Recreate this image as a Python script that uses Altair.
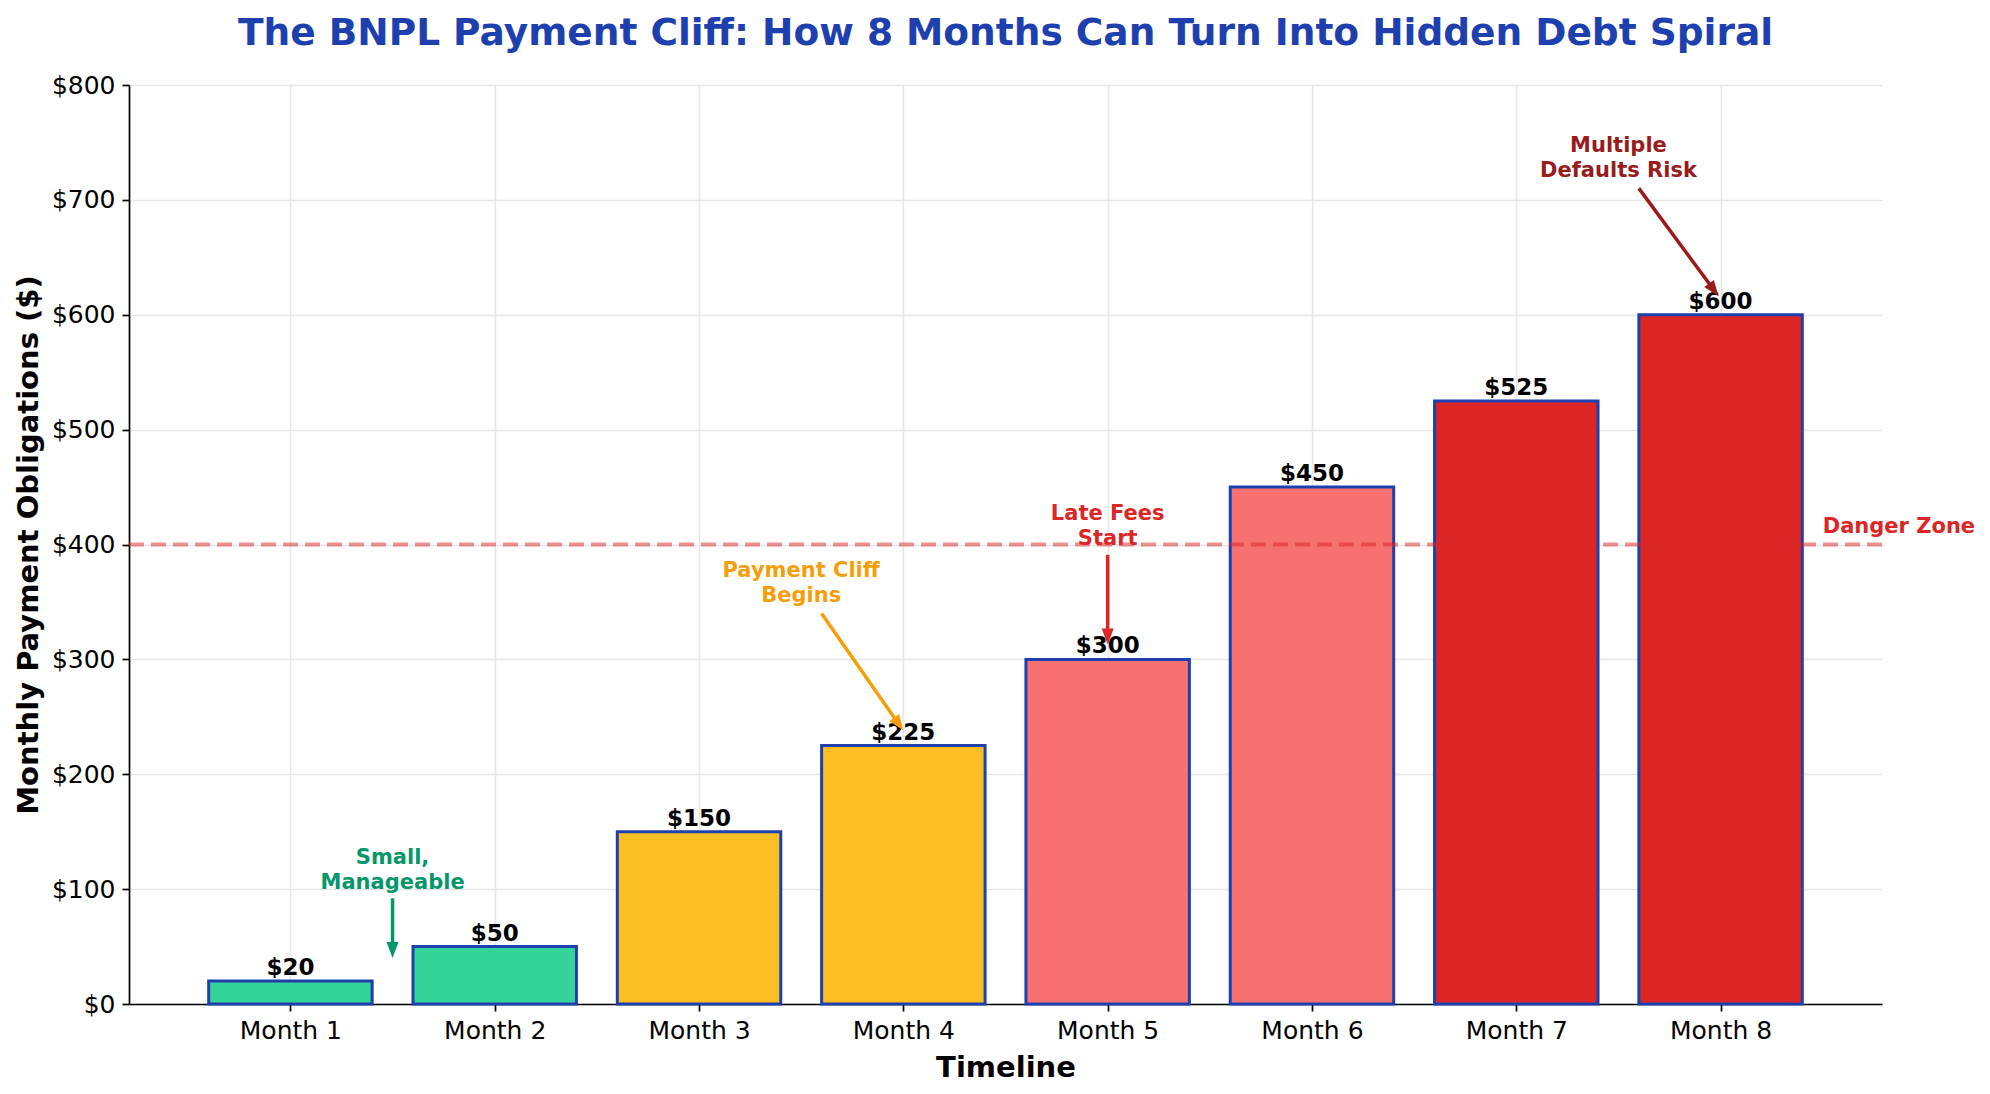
import math

import altair as alt
import pandas as pd

# monthly BNPL obligations
months = ["Month 1", "Month 2", "Month 3", "Month 4",
          "Month 5", "Month 6", "Month 7", "Month 8"]
payments = [20, 50, 150, 225, 300, 450, 525, 600]
tiers = ["Low", "Low", "Rising", "Rising", "High", "High", "Critical", "Critical"]

tier_names = ["Low", "Rising", "High", "Critical"]
tier_colors = ["#34d399", "#fbbf24", "#f87171", "#dc2626"]

danger_level = 400

# callouts: text anchor, arrow start and arrow tip (data units)
note_text = ["Small,\nManageable", "Payment Cliff\nBegins",
             "Late Fees\nStart", "Multiple\nDefaults Risk"]
note_x = [0.5, 2.5, 4.0, 6.5]
note_y = [100, 350, 400, 720]
arrow_from_x = [0.5, 2.6, 4.0, 6.6]
arrow_from_y = [92, 340, 391, 710]
arrow_to_x = [0.5, 3.0, 4.0, 6.99]
arrow_to_y = [40, 238, 313, 616]
note_color = ["#059669", "#f59e0b", "#dc2626", "#991b1b"]

W, H = 1753, 919
x_dom = [-0.79, 7.79]
y_dom = [0, 800]
px_x = W / (x_dom[1] - x_dom[0])
px_y = H / (y_dom[1] - y_dom[0])
line_h = 25

bars_df = pd.DataFrame({
    "idx": list(range(len(months))),
    "month": months,
    "payment": payments,
    "tier": tiers,
    "label": ["$%d" % p for p in payments],
})

# arrow direction in screen space, line stops short of the head tip
angles, end_x, end_y = [], [], []
for fx, fy, tx, ty in zip(arrow_from_x, arrow_from_y, arrow_to_x, arrow_to_y):
    dx = (tx - fx) * px_x
    dy = -(ty - fy) * px_y
    angles.append(math.degrees(math.atan2(dx, -dy)))
    d = math.hypot(dx, dy)
    k = max(d - 10, 0) / d
    end_x.append(fx + (tx - fx) * k)
    end_y.append(fy + (ty - fy) * k)

notes_df = pd.DataFrame({
    "x": note_x, "y": note_y, "text": note_text, "color": note_color,
    "fx": arrow_from_x, "fy": arrow_from_y,
    "ex": end_x, "ey": end_y,
    "tx": arrow_to_x, "ty": arrow_to_y, "angle": angles,
})

danger_df = pd.DataFrame({"level": [danger_level], "x": [7.5], "y": [danger_level + 10],
                          "text": ["Danger Zone"]})

label_expr = "[" + ",".join("'%s'" % m for m in months) + "][datum.value]"

x_axis = alt.Axis(values=list(range(len(months))), labelExpr=label_expr,
                  grid=True, tickSize=7, labelPadding=7,
                  titleY=72, titleBaseline="alphabetic")
y_axis = alt.Axis(values=list(range(0, 801, 100)), labelExpr="'$' + datum.value",
                  grid=True, tickSize=7, labelPadding=7,
                  titleX=-101, titleY=H / 2, titleAngle=270,
                  titleBaseline="middle", titleAlign="center")


def xenc(field):
    return alt.X(field, type="quantitative",
                 scale=alt.Scale(domain=x_dom, nice=False, zero=False),
                 axis=x_axis, title="Timeline")


def yenc(field):
    return alt.Y(field, type="quantitative",
                 scale=alt.Scale(domain=y_dom, nice=False),
                 axis=y_axis, title="Monthly Payment Obligations ($)")


bars = alt.Chart(bars_df).transform_calculate(
    x0="datum.idx - 0.4", x1="datum.idx + 0.4", base="0"
).mark_bar(stroke="#1e40af", strokeWidth=3).encode(
    x=xenc("x0"),
    x2="x1:Q",
    y=yenc("payment"),
    y2="base:Q",
    color=alt.Color("tier:N", scale=alt.Scale(domain=tier_names, range=tier_colors),
                    legend=None),
)

bar_labels = alt.Chart(bars_df).mark_text(
    fontSize=23, fontWeight="bold", color="black", baseline="bottom", dy=-1
).encode(x=xenc("idx"), y=yenc("payment"), text="label:N")

danger = alt.Chart(danger_df).mark_rule(
    color="#dc2626", opacity=0.5, strokeWidth=4, strokeDash=[15, 7]
).encode(y=yenc("level"))

danger_text = alt.Chart(danger_df).mark_text(
    fontSize=21, fontWeight="bold", color="#dc2626", align="left", baseline="alphabetic"
).encode(x=xenc("x"), y=yenc("y"), text="text:N")

arrows = alt.Chart(notes_df).mark_rule(strokeWidth=3.5).encode(
    x=xenc("fx"), y=yenc("fy"), x2="ex:Q", y2="ey:Q",
    color=alt.Color("color:N", scale=None),
)

heads = alt.Chart(notes_df).mark_point(
    shape="M0,0L-0.75,2L0.75,2Z", filled=True, size=256, opacity=1, strokeWidth=0
).encode(
    x=xenc("tx"), y=yenc("ty"),
    angle=alt.Angle("angle:Q", scale=None),
    color=alt.Color("color:N", scale=None),
)

# last line's baseline sits on the anchor value
notes = alt.Chart(notes_df).mark_text(
    fontSize=21, fontWeight="bold", align="center", baseline="alphabetic",
    dy=-line_h, lineBreak="\n", lineHeight=line_h
).encode(
    x=xenc("x"), y=yenc("y"), text="text:N",
    color=alt.Color("color:N", scale=None),
)

chart = alt.layer(bars, danger, bar_labels, danger_text, arrows, heads, notes).properties(
    width=W,
    height=H,
    autosize=alt.AutoSizeParams(type="none"),
    padding={"left": 121, "top": 77, "right": 98, "bottom": 78},
    title=alt.TitleParams(
        "The BNPL Payment Cliff: How 8 Months Can Turn Into Hidden Debt Spiral",
        fontSize=37.5, fontWeight="bold", color="#1e40af", anchor="middle",
        baseline="alphabetic", offset=-9,
    ),
).configure(
    font="DejaVu Sans",
).configure_view(
    stroke=None,
).configure_axis(
    labelFont="DejaVu Sans", labelFontSize=25, labelColor="black",
    titleFont="DejaVu Sans", titleFontSize=29, titleFontWeight="bold", titleColor="black",
    domainColor="black", domainWidth=1.7, tickColor="black", tickWidth=1.7,
    gridColor="#e6e6e6", gridWidth=1.6,
)

chart.save("out.html", embed_options={"renderer": "svg", "actions": False})
